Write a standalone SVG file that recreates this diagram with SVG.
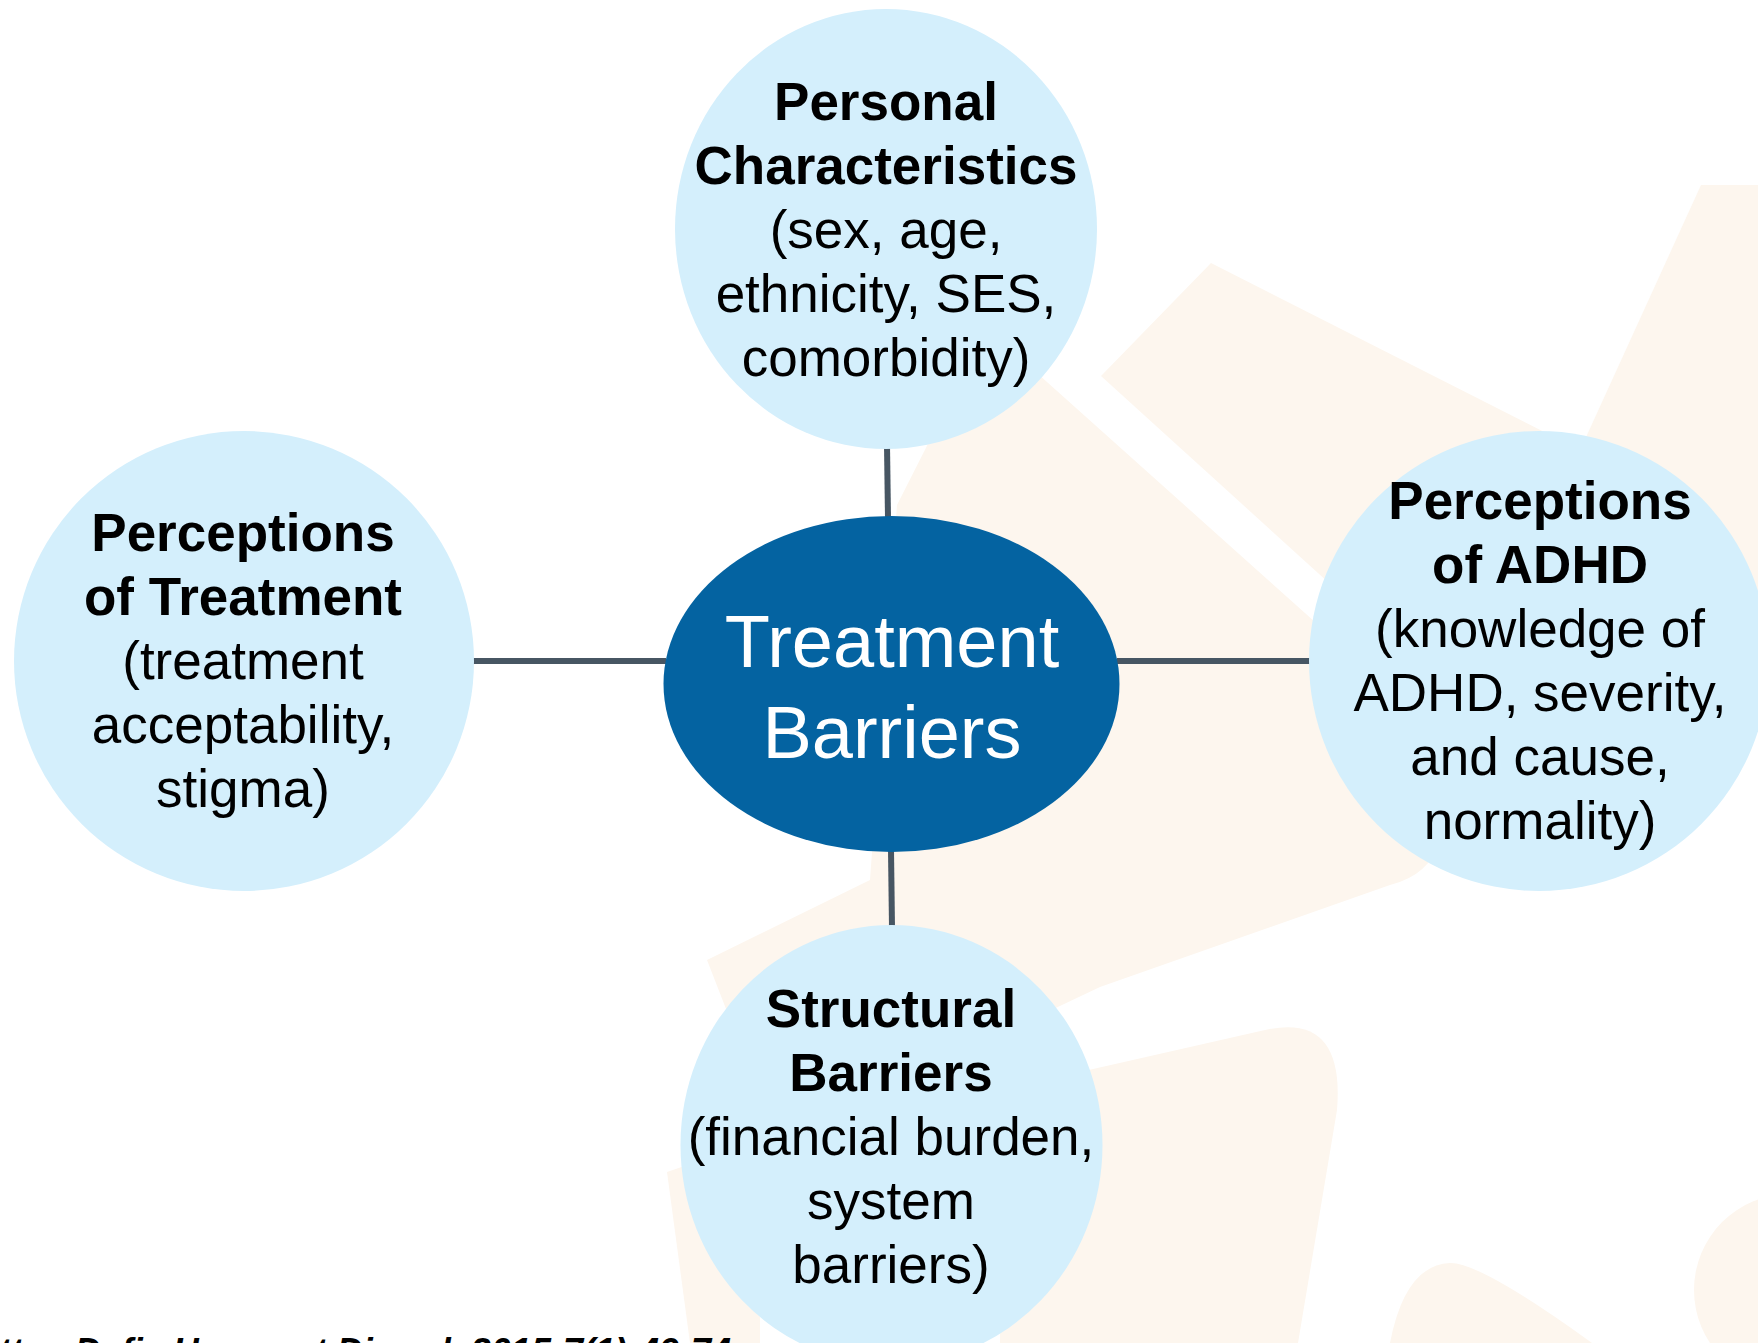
<svg xmlns="http://www.w3.org/2000/svg" width="1758" height="1343" viewBox="0 0 1758 1343">
  <style>
    .bg { fill: #fdf6ee; }
    .sat { fill: #d4effc; }
    .core { fill: #0463a1; }
    .t { font-family: "Liberation Sans", Arial, sans-serif; font-size: 53px; fill: #000; text-anchor: middle; }
    .b { font-weight: bold; }
    .ct { font-family: "Liberation Sans", Arial, sans-serif; font-size: 74px; fill: #fff; text-anchor: middle; }
    .conn { stroke: #475663; stroke-width: 6; fill: none; }
    .cite { font-family: "Liberation Sans", Arial, sans-serif; font-size: 36px; font-weight: bold; font-style: italic; fill: #000; }
  </style>
  <rect width="1758" height="1343" fill="#ffffff"/>
  <g id="watermark">
    <polygon class="bg" points="1211,263 1560,440 1480,720 1101,376"/>
    <polygon class="bg" points="1701,185 1758,185 1758,640 1530,560"/>
    <path class="bg" d="M1000,340 L1400,698 L1440,840 Q1430,875 1390,885 L1100,987 L777,1140 L707,960 L870,880 L897,505 L935,430 Z"/>
    <path class="bg" d="M1000,1090 L1265,1030 Q1345,1012 1337,1110 L1298,1343 L1000,1343 Z"/>
    <polygon class="bg" points="667,1172 760,1140 760,1343 690,1343"/>
    <path class="bg" d="M1390,1343 Q1405,1265 1450,1263 Q1480,1262 1592,1343 Z"/>
    <circle class="bg" cx="1790" cy="1290" r="96"/>
  </g>
  <g id="connectors">
    <line class="conn" x1="887" y1="445" x2="888" y2="518"/>
    <line class="conn" x1="891" y1="850" x2="892" y2="928"/>
    <line class="conn" x1="470" y1="661" x2="666" y2="661"/>
    <line class="conn" x1="1117" y1="661" x2="1312" y2="661"/>
  </g>
  <g id="node-personal">
    <ellipse class="sat" cx="886" cy="229" rx="211" ry="220"/>
    <text class="t b" x="886" y="120">Personal</text>
    <text class="t b" x="886" y="184">Characteristics</text>
    <text class="t" x="886" y="248">(sex, age,</text>
    <text class="t" x="886" y="312">ethnicity, SES,</text>
    <text class="t" x="886" y="376">comorbidity)</text>
  </g>
  <g id="node-treatment">
    <circle class="sat" cx="244" cy="661" r="230"/>
    <text class="t b" x="243" y="551">Perceptions</text>
    <text class="t b" x="243" y="615">of Treatment</text>
    <text class="t" x="243" y="679">(treatment</text>
    <text class="t" x="243" y="743">acceptability,</text>
    <text class="t" x="243" y="807">stigma)</text>
  </g>
  <g id="node-adhd">
    <circle class="sat" cx="1539" cy="661" r="230"/>
    <text class="t b" x="1540" y="519">Perceptions</text>
    <text class="t b" x="1540" y="583">of ADHD</text>
    <text class="t" x="1540" y="647">(knowledge of</text>
    <text class="t" x="1540" y="711">ADHD, severity,</text>
    <text class="t" x="1540" y="775">and cause,</text>
    <text class="t" x="1540" y="839">normality)</text>
  </g>
  <g id="node-structural">
    <ellipse class="sat" cx="891.5" cy="1145" rx="211" ry="220"/>
    <text class="t b" x="891" y="1027">Structural</text>
    <text class="t b" x="891" y="1091">Barriers</text>
    <text class="t" x="891" y="1155">(financial burden,</text>
    <text class="t" x="891" y="1219">system</text>
    <text class="t" x="891" y="1283">barriers)</text>
  </g>
  <g id="node-center">
    <ellipse class="core" cx="891.5" cy="684" rx="228" ry="168"/>
    <text class="ct" x="892" y="667">Treatment</text>
    <text class="ct" x="892" y="758">Barriers</text>
  </g>
  <g id="citation">
    <text class="cite" x="731" y="1364" text-anchor="end">Atten Defic Hyperact Disord. 2015;7(1):49-74</text>
  </g>
</svg>
